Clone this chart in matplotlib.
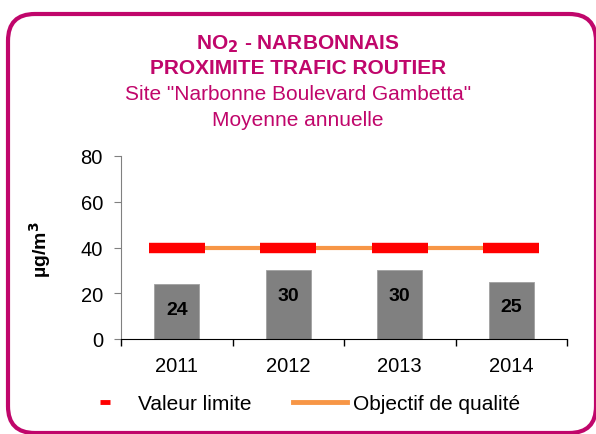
import matplotlib.pyplot as plt
from matplotlib.patches import FancyBboxPatch
from matplotlib.lines import Line2D

years = ['2011', '2012', '2013', '2014']
moyenne = [24, 30, 30, 25]
valeur_limite = [40, 40, 40, 40]
objectif = [40, 40, 40, 40]

magenta = '#C0066B'
plt.rcParams['font.family'] = ['Liberation Sans', 'DejaVu Sans']

fig = plt.figure(figsize=(5.96, 4.35), dpi=100)

# cadre arrondi
cadre = FancyBboxPatch((8 / 596, 1 / 435), 588 / 596, 419 / 435,
                       boxstyle='round,pad=0,rounding_size=0.045',
                       transform=fig.transFigure, fill=False,
                       edgecolor=magenta, linewidth=3, mutation_aspect=596 / 435)
fig.patches.append(cadre)

# titres
fig.text(0.5, 1 - 44 / 435, r'NO$_\mathbf{2}$ - NARBONNAIS', ha='center', va='center',
         fontsize=15, fontweight='bold', color=magenta)
fig.text(0.5, 1 - 69 / 435, 'PROXIMITE TRAFIC ROUTIER', ha='center', va='center',
         fontsize=15, fontweight='bold', color=magenta)
fig.text(0.5, 1 - 95 / 435, 'Site "Narbonne Boulevard Gambetta"', ha='center', va='center',
         fontsize=15, color=magenta)
fig.text(0.5, 1 - 120 / 435, 'Moyenne annuelle', ha='center', va='center',
         fontsize=15, color=magenta)

ax = fig.add_axes([121 / 596, 95 / 435, 446 / 596, 183 / 435])
x = range(len(years))

ax.bar(x, moyenne, width=0.4, color='#808080', edgecolor='#a0a0a0', linewidth=0.6, zorder=2)
for i, v in zip(x, moyenne):
    ax.annotate(str(v), (i, v), xytext=(0, -18), textcoords='offset points',
                ha='center', va='center', fontsize=14, fontweight='bold', color='black')

ax.plot(x, objectif, color='#F79646', linewidth=3, zorder=3, solid_capstyle='butt')
ax.plot(x, valeur_limite, linestyle='none', marker='_', markersize=40,
        markeredgewidth=7.5, color='#FF0000', zorder=4)

ax.set_xlim(-0.5, 3.5)
ax.set_ylim(0, 80)
ax.set_yticks([0, 20, 40, 60, 80])
ax.set_xticks(list(x))
ax.set_xticklabels(years)
ax.set_xticks([-0.5, 0.5, 1.5, 2.5, 3.5], minor=True)
ax.tick_params(axis='x', which='major', length=0, labelsize=14.5, pad=12)
ax.tick_params(axis='x', which='minor', length=5, direction='out', color='black', width=1)
ax.tick_params(axis='y', length=5, direction='out', color='#808080', labelsize=14.5, pad=8)

for s in ['top', 'right']:
    ax.spines[s].set_visible(False)
ax.spines['left'].set_color('#808080')
ax.spines['bottom'].set_color('black')

fig.text(40 / 596, 1 - 250 / 435, 'µg/m$^\\mathbf{3}$', rotation=90, ha='center', va='center',
         fontsize=14, fontweight='bold')

handles = [Line2D([], [], color='#FF0000', marker='_', markersize=7, markeredgewidth=3.5, linestyle='none'),
           Line2D([], [], color='#F79646', linewidth=3.5)]
fig.legend(handles, ['Valeur limite', 'Objectif de qualité'], loc='center',
           bbox_to_anchor=(299 / 596, 1 - 405 / 435), ncol=2, frameon=False,
           fontsize=15, handlelength=2.6, handletextpad=0.3, columnspacing=2.0)

fig.savefig('out.png', dpi=100)
